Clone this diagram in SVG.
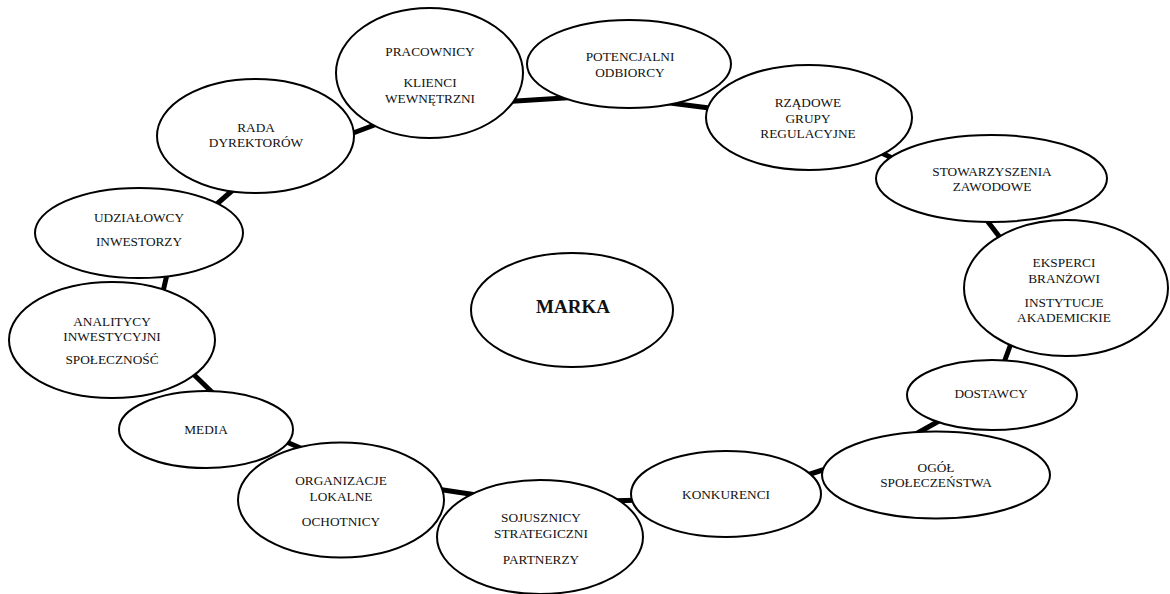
<svg xmlns="http://www.w3.org/2000/svg" width="1170" height="594" viewBox="0 0 1170 594">
<style>
.n ellipse{fill:#fff;stroke:#000;stroke-width:2}
.n text{font-family:"Liberation Serif","Times New Roman",serif;font-size:13.3px;fill:#111;text-anchor:middle}
.ring{fill:none;stroke:#000;stroke-width:5;stroke-linejoin:round}
</style>
<rect width="1170" height="594" fill="#fff"/>
<g id="connectors">
<path class="ring" d="M340,138 L385,121 L500,102 L580,97 L670,103 L725,110 L875,150 L905,164 L982,214 L1008,248 L1013,338 L1002,368 L948,416 L905,440 L835,466 L798,478 L645,500 L605,501 L490,497 L430,488 L312,453 L275,437 L218,398 L185,366 L162,296 L168,270 L210,210 L242,182 Z"/>
</g>
<g id="marka" class="n"><ellipse cx="572" cy="310" rx="101" ry="57"/><text x="573" y="313" style="font-size:19px;font-weight:bold">MARKA</text></g>
<g id="pracownicy" class="n"><ellipse cx="429.5" cy="73" rx="93.5" ry="65"/><text x="430" y="56">PRACOWNICY</text><text x="430" y="87">KLIENCI</text><text x="430" y="103">WEWNĘTRZNI</text></g>
<g id="potencjalni" class="n"><ellipse cx="629" cy="64" rx="102" ry="44"/><text x="630" y="61">POTENCJALNI</text><text x="630" y="77">ODBIORCY</text></g>
<g id="rzadowe" class="n"><ellipse cx="809" cy="117.5" rx="103" ry="52.5"/><text x="808" y="107">RZĄDOWE</text><text x="808" y="123">GRUPY</text><text x="808" y="138">REGULACYJNE</text></g>
<g id="stowarzyszenia" class="n"><ellipse cx="991.5" cy="178.5" rx="115.5" ry="43.5"/><text x="992" y="176">STOWARZYSZENIA</text><text x="992" y="191">ZAWODOWE</text></g>
<g id="eksperci" class="n"><ellipse cx="1066" cy="288" rx="102" ry="68"/><text x="1064" y="267">EKSPERCI</text><text x="1064" y="283">BRANŻOWI</text><text x="1064" y="307">INSTYTUCJE</text><text x="1064" y="322">AKADEMICKIE</text></g>
<g id="dostawcy" class="n"><ellipse cx="992" cy="395" rx="85" ry="35"/><text x="991" y="398">DOSTAWCY</text></g>
<g id="ogol" class="n"><ellipse cx="936" cy="475" rx="114" ry="43.5"/><text x="936" y="472">OGÓŁ</text><text x="936" y="487">SPOŁECZEŃSTWA</text></g>
<g id="konkurenci" class="n"><ellipse cx="726" cy="494" rx="95" ry="43"/><text x="726" y="499">KONKURENCI</text></g>
<g id="sojusznicy" class="n"><ellipse cx="540" cy="537" rx="103" ry="57"/><text x="541" y="522">SOJUSZNICY</text><text x="541" y="538">STRATEGICZNI</text><text x="541" y="564">PARTNERZY</text></g>
<g id="organizacje" class="n"><ellipse cx="341" cy="500" rx="103" ry="57.5"/><text x="341" y="485">ORGANIZACJE</text><text x="341" y="501">LOKALNE</text><text x="341" y="526">OCHOTNICY</text></g>
<g id="media" class="n"><ellipse cx="206" cy="429.5" rx="87" ry="38.5"/><text x="206" y="434">MEDIA</text></g>
<g id="analitycy" class="n"><ellipse cx="112" cy="340" rx="103" ry="58"/><text x="112" y="326">ANALITYCY</text><text x="112" y="341">INWESTYCYJNI</text><text x="112" y="364">SPOŁECZNOŚĆ</text></g>
<g id="udzialowcy" class="n"><ellipse cx="139" cy="233" rx="104" ry="45"/><text x="139" y="222">UDZIAŁOWCY</text><text x="139" y="246">INWESTORZY</text></g>
<g id="rada" class="n"><ellipse cx="255.5" cy="136" rx="98.5" ry="57"/><text x="256" y="132">RADA</text><text x="256" y="147">DYREKTORÓW</text></g>
</svg>
